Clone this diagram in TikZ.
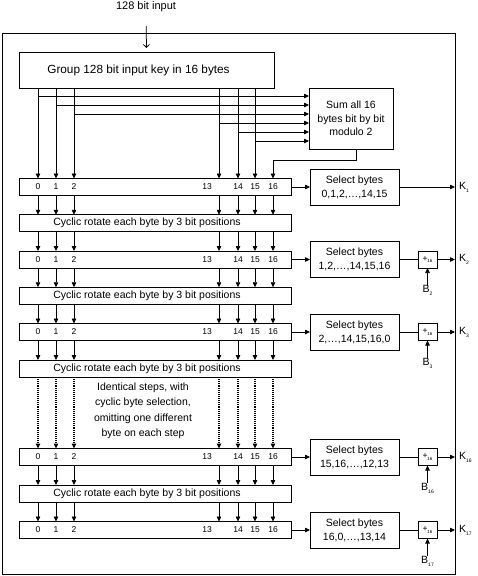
\documentclass[tikz,border=0pt]{standalone}
\usepackage{fontspec}
\setmainfont{Liberation Sans}
\usetikzlibrary{arrows.meta}
\newcommand{\lowsub}[1]{\raisebox{-3pt}{\fontsize{5}{5}\selectfont #1}}
\begin{document}
\begin{tikzpicture}[x=1pt,y=-1pt,line width=0.75pt,
  every node/.style={font=\fontsize{10.5}{13}\selectfont, inner sep=0pt, outer sep=0pt},
  blk/.style={draw, anchor=north west},
  rowbox/.style={draw, minimum width=272pt, minimum height=17pt},
  num/.style={font=\fontsize{8.5}{10}\selectfont},
  selbox/.style={draw, minimum width=89pt, minimum height=36pt, align=center, font=\fontsize{10.5}{14}\selectfont},
  addbox/.style={draw, minimum width=19pt, minimum height=17pt},
  arr/.style={-{Triangle[length=5pt,width=4.5pt]}},
  inarr/.style={-{Straight Barb[length=3pt,width=6pt]}},
]
\useasboundingbox (0,0) rectangle (477,576);
\node[blk, minimum width=453pt, minimum height=541pt] (frame) at (2,33) {};
\node[font=\fontsize{11}{13}\selectfont] (inp) at (146,7) {128 bit input};
\node[blk, minimum width=255pt, minimum height=36pt, font=\fontsize{11.8}{14}\selectfont] (grp) at (19,52) {Group 128 bit input key in 16 bytes\hspace*{16pt}};
\node[blk, minimum width=84pt, minimum height=61pt, align=center, font=\fontsize{10.5}{13.5}\selectfont] (sum) at (309,88) {Sum all 16\\bytes bit by bit\\modulo 2};
\foreach \i/\x in {1/38,2/56,3/74,4/219,5/238,6/255,7/273} \coordinate (c\i) at (\x,0);
\foreach \i/\y in {1/96,2/105,3/114,4/123,5/132,6/141} \coordinate (h\i) at (0,\y);
% rows
\foreach \n/\y/\s in {1/187/{0,1,2,\dots,14,15}, 2/259.5/{1,2,\dots,14,15,16}, 3/332/{2,\dots,14,15,16,0}, 16/457/{15,16,\dots,12,13}, 17/530/{16,0,\dots,13,14}} {
  \node[rowbox] (row\n) at (155,\y) {};
  \foreach \l/\lx in {0/38,1/56,2/74,13/207,14/238,15/255,16/273} \node[num] (row\n-\l) at (\lx,\y) {\l};
  \node[selbox] (sel\n) at (354.5,\y) {Select bytes\\\s};
  \draw[arr] (row\n.east) -- (sel\n.west);
  \node[anchor=west] (k\n) at (459,\y) {K\lowsub{\n}};
}
\foreach \n/\y in {1/223.25, 2/295.75, 3/368.5, 16/493.5}
  \node[rowbox] (cyc\n) at (155,\y) {Cyclic rotate each byte by 3 bit positions\hspace*{16pt}};
\node[align=center, font=\fontsize{10.5}{15.5}\selectfont] (ident) at (143,411) {Identical steps, with\\cyclic byte selection,\\omitting one different\\byte on each step};
% input
\draw[inarr, shorten <=14pt] (inp.south) -- ([yshift=4pt]grp.north);
% group to first row and to sum
\foreach \i in {1,...,6} {
  \draw[arr] (c\i |- grp.south) -- (c\i |- row1.north);
  \draw[arr] (c\i |- h\i) -- (sum.west |- h\i);
}
\draw[arr] ([xshift=5pt]sum.south) -- ++(0,11) -| (c7 |- row1.north);
% vertical arrows between rows
\foreach \a/\b in {row1/cyc1, cyc1/row2, row2/cyc2, cyc2/row3, row3/cyc3, row16/cyc16, cyc16/row17}
  \foreach \i in {1,...,7} \draw[arr] (c\i |- \a.south) -- (c\i |- \b.north);
\foreach \i in {1,...,7} \draw[arr, densely dotted, line width=1.1pt] (c\i |- cyc3.south) -- (c\i |- row16.north);
% outputs
\draw[arr] (sel1.east) -- (frame.east |- sel1.east);
\foreach \n in {2,3,16,17} {
  \node[addbox] (add\n) at ([xshift=28.5pt]sel\n.east) {\fontsize{8.5}{8.5}\selectfont+\raisebox{-1.5pt}{\fontsize{4.5}{5}\selectfont 16}};
  \draw (sel\n.east) -- (add\n.west);
  \draw[arr] (add\n.east) -- (frame.east |- add\n.east);
  \node[anchor=north] (b\n) at ([yshift=-26pt]add\n.center) {B\lowsub{\n}};
  \draw[arr] (b\n.north) -- (add\n.south);
}
\end{tikzpicture}
\end{document}
